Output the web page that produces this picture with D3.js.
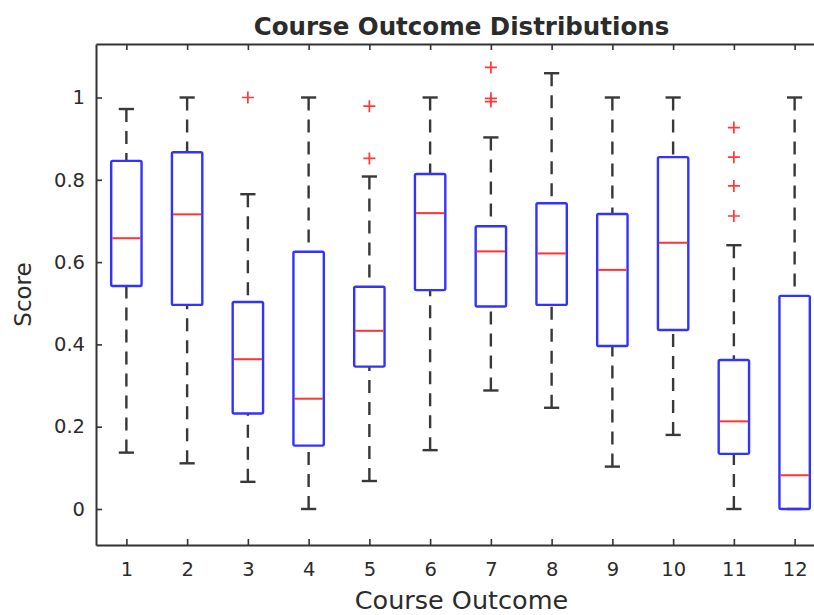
<!DOCTYPE html>
<html>
<head>
<meta charset="utf-8">
<script src="https://cdn.jsdelivr.net/npm/d3@7"></script>
<style>
  html, body { margin: 0; padding: 0; background: #fff; }
  svg { display: block; }
  text { font-family: "DejaVu Sans", "Liberation Sans", Arial, sans-serif; fill: #2b2b2b; }
</style>
</head>
<body>
<svg id="chart" width="814" height="615"></svg>
<script>
// ---------- data ----------
const categories   = ["1","2","3","4","5","6","7","8","9","10","11","12"];
const upperWhisker = [0.972, 1.000, 0.765, 1.000, 0.808, 1.000, 0.903, 1.059, 1.000, 1.000, 0.641, 1.000];
const q3           = [0.846, 0.867, 0.503, 0.625, 0.540, 0.814, 0.687, 0.743, 0.717, 0.855, 0.362, 0.518];
const medians      = [0.658, 0.716, 0.364, 0.268, 0.433, 0.719, 0.626, 0.621, 0.581, 0.647, 0.213, 0.082];
const q1           = [0.542, 0.496, 0.232, 0.154, 0.346, 0.532, 0.492, 0.496, 0.396, 0.435, 0.134, 0.000];
const lowerWhisker = [0.137, 0.111, 0.066, 0.000, 0.068, 0.143, 0.288, 0.246, 0.103, 0.180, 0.000, 0.000];
const outliers     = [[], [], [1.0], [], [0.979, 0.852], [], [1.073, 0.998, 0.990], [], [], [], [0.927, 0.855, 0.785, 0.712], []];
const yTicks       = [0, 0.2, 0.4, 0.6, 0.8, 1];
const yTickLabels  = ["0", "0.2", "0.4", "0.6", "0.8", "1"];
const titleText    = "Course Outcome Distributions";
const xLabelText   = "Course Outcome";
const yLabelText   = "Score";

(function () {
// ---------- layout ----------
const svg = d3.select("#chart");
const mLeft = 96, mRight = 825, mTop = 44, mBottom = 545;

const x = d3.scaleLinear().domain([0.5, categories.length + 0.5]).range([mLeft, mRight]);
const y = d3.scaleLinear().domain([-0.0875, 1.13]).range([mBottom, mTop]);

const boxW = 0.5;          // data units
const capW = 0.25;

const data = categories.map((c, i) => ({
  c, pos: i + 1,
  hi: upperWhisker[i], q3: q3[i], med: medians[i], q1: q1[i], lo: lowerWhisker[i],
  out: outliers[i]
}));

svg.append("rect").attr("width", 814).attr("height", 615).attr("fill", "#fff");

const plot = svg.append("g");

const g = plot.selectAll("g.box").data(data).join("g").attr("class", "box");

const wColor = "#383838";
// whiskers
g.append("line")
  .attr("x1", d => x(d.pos)).attr("x2", d => x(d.pos))
  .attr("y1", d => y(d.hi)).attr("y2", d => y(d.q3))
  .attr("stroke", wColor).attr("stroke-width", 2.4).attr("stroke-dasharray", "13,9");
g.append("line")
  .attr("x1", d => x(d.pos)).attr("x2", d => x(d.pos))
  .attr("y1", d => y(d.lo)).attr("y2", d => y(d.q1))
  .attr("stroke", wColor).attr("stroke-width", 2.4).attr("stroke-dasharray", "13,9");
// caps
g.append("line")
  .attr("x1", d => x(d.pos - capW / 2)).attr("x2", d => x(d.pos + capW / 2))
  .attr("y1", d => y(d.hi)).attr("y2", d => y(d.hi))
  .attr("stroke", wColor).attr("stroke-width", 2.4);
g.append("line")
  .attr("x1", d => x(d.pos - capW / 2)).attr("x2", d => x(d.pos + capW / 2))
  .attr("y1", d => y(d.lo)).attr("y2", d => y(d.lo))
  .attr("stroke", wColor).attr("stroke-width", 2.4);
// boxes
g.append("rect")
  .attr("x", d => x(d.pos - boxW / 2))
  .attr("width", d => x(d.pos + boxW / 2) - x(d.pos - boxW / 2))
  .attr("y", d => y(d.q3))
  .attr("height", d => y(d.q1) - y(d.q3))
  .attr("fill", "none").attr("stroke", "#3333ff").attr("stroke-width", 2.4).attr("rx", 1.5);
// medians
g.append("line")
  .attr("x1", d => x(d.pos - boxW / 2) + 1).attr("x2", d => x(d.pos + boxW / 2) - 1)
  .attr("y1", d => y(d.med)).attr("y2", d => y(d.med))
  .attr("stroke", "#ff3333").attr("stroke-width", 2);
// outliers
g.each(function (d) {
  d3.select(this).selectAll("path.out").data(d.out).join("path")
    .attr("class", "out")
    .attr("d", v => {
      const cx = x(d.pos), cy = y(v), r = 6;
      return `M${cx - r},${cy}H${cx + r}M${cx},${cy - r}V${cy + r}`;
    })
    .attr("stroke", "#ff3838").attr("stroke-width", 1.7).attr("fill", "none");
});

// ---------- axes ----------
const axisColor = "#333";
const xAxis = d3.axisBottom(x).tickValues(categories.map((c, i) => i + 1))
  .tickFormat((d, i) => categories[i]).tickSizeInner(-6).tickSizeOuter(0).tickPadding(17);
const xg = svg.append("g").attr("transform", `translate(0,${mBottom})`).call(xAxis);
xg.select(".domain").attr("stroke", axisColor).attr("stroke-width", 2);
xg.selectAll(".tick line").attr("stroke", axisColor).attr("stroke-width", 1.6);
xg.selectAll("text").style("font-size", "19.5px").attr("fill", "#333");

const xTop = d3.axisTop(x).tickValues(categories.map((c, i) => i + 1))
  .tickFormat("").tickSizeInner(-6).tickSizeOuter(0);
const xtg = svg.append("g").attr("transform", `translate(0,${mTop})`).call(xTop);
xtg.select(".domain").attr("stroke", axisColor).attr("stroke-width", 2);
xtg.selectAll(".tick line").attr("stroke", axisColor).attr("stroke-width", 1.6);

const yAxis = d3.axisLeft(y).tickValues(yTicks)
  .tickFormat((d, i) => yTickLabels[i]).tickSizeInner(-6).tickSizeOuter(0).tickPadding(11);
const yg = svg.append("g").attr("transform", `translate(${mLeft},0)`).call(yAxis);
yg.select(".domain").attr("stroke", axisColor).attr("stroke-width", 2);
yg.selectAll(".tick line").attr("stroke", axisColor).attr("stroke-width", 1.6);
yg.selectAll("text").style("font-size", "19.5px").attr("fill", "#333");

// ---------- labels ----------
svg.append("text").attr("x", (mLeft + mRight) / 2 + 1).attr("y", 35)
  .attr("text-anchor", "middle").style("font-size", "24.5px").style("font-weight", "bold")
  .attr("fill", "#111").text(titleText);

svg.append("text").attr("x", (mLeft + mRight) / 2 + 1).attr("y", 609)
  .attr("text-anchor", "middle").style("font-size", "25.5px").attr("fill", "#333").text(xLabelText);

svg.append("text")
  .attr("transform", `translate(31,${(mTop + mBottom) / 2}) rotate(-90)`)
  .attr("text-anchor", "middle").style("font-size", "23px").attr("fill", "#333").text(yLabelText);
})();
</script>
</body>
</html>
